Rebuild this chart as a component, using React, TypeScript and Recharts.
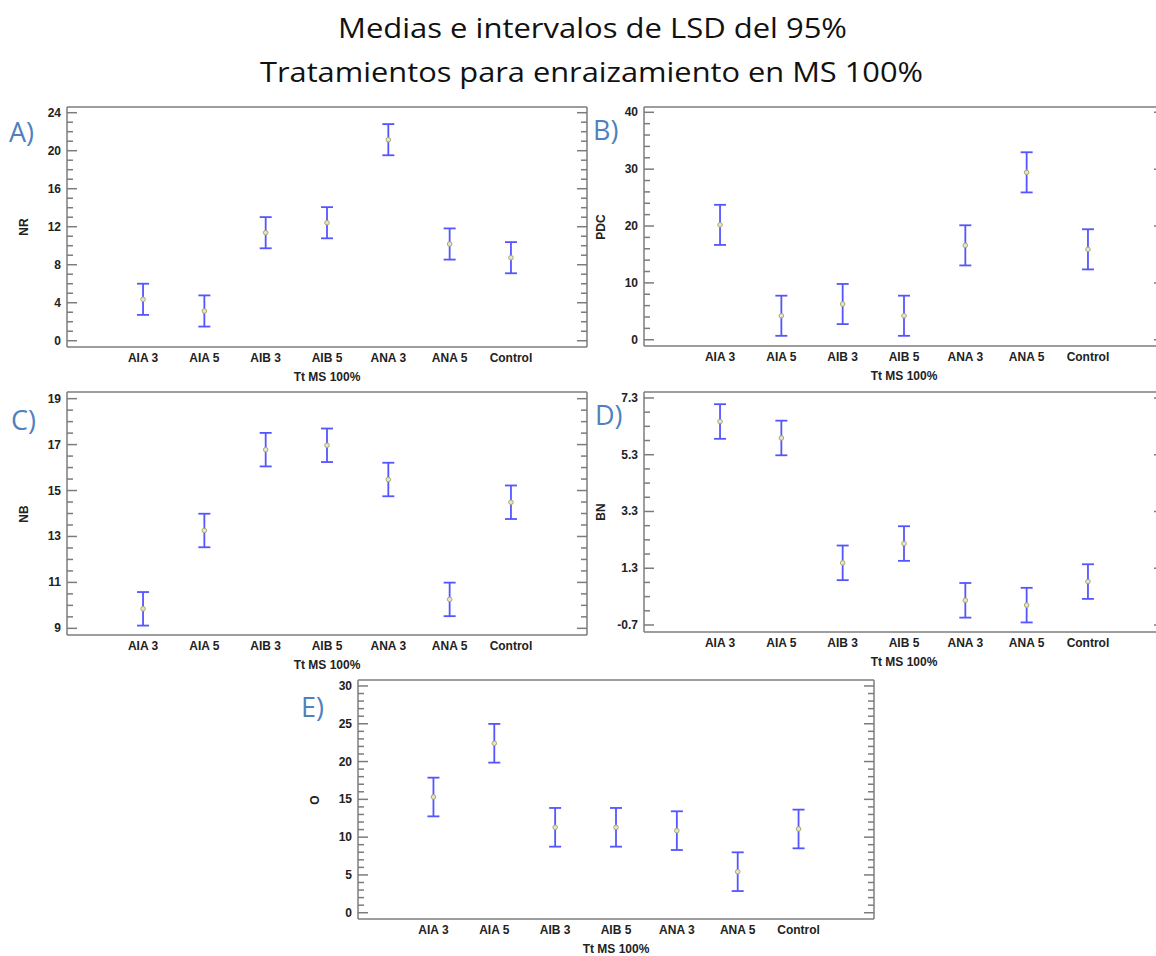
import React from "react";
import {
  ScatterChart,
  Scatter,
  XAxis,
  YAxis,
  ErrorBar,
} from "recharts";

// treatments (x categories)
const categories = ["AIA 3", "AIA 5", "AIB 3", "AIB 5", "ANA 3", "ANA 5", "Control"];

// A) NR
const nrMeans = [4.36, 3.13, 11.37, 12.42, 21.16, 10.18, 8.74];
const nrLsd = 1.64;
const nrTicks = [0, 4, 8, 12, 16, 20, 24];

// B) PDC
const pdcMeans = [20.2, 4.22, 6.28, 4.22, 16.6, 29.44, 15.9];
const pdcLsd = 3.53;
const pdcTicks = [0, 10, 20, 30, 40];

// C) NB
const nbMeans = [9.85, 13.26, 16.78, 16.97, 15.48, 10.26, 14.49];
const nbLsd = 0.73;
const nbTicks = [9, 11, 13, 15, 17, 19];

// D) BN
const bnMeans = [6.47, 5.89, 1.49, 2.17, 0.17, 0.0, 0.83];
const bnLsd = 0.61;
const bnTicks = [-0.7, 1.3, 3.3, 5.3, 7.3];

// E) O
const oMeans = [15.31, 22.42, 11.3, 11.3, 10.86, 5.43, 11.08];
const oLsd = 2.56;
const oTicks = [0, 5, 10, 15, 20, 25, 30];

const xTitle = "Tt MS 100%";
const FRAME = "#7c7c7c";
const BAR = "#5555ff";
const TICK_FONT = "'Liberation Sans', Arial, sans-serif";

function withMinor(majors: number[], step: number) {
  const first = majors[0];
  const last = majors[majors.length - 1];
  const n = Math.round((last - first) / step);
  const out: number[] = [];
  for (let k = 0; k <= n; k++) out.push(Math.round((first + k * step) * 1000) / 1000);
  return out;
}

const isMajor = (v: number, majors: number[]) => majors.some((m) => Math.abs(m - v) < 1e-6);

function LeftTick(props: any) {
  const { x, y, payload, majors } = props;
  const major = isMajor(payload.value, majors);
  const ax = x + 5;
  return (
    <g>
      <line x1={ax} x2={ax + (major ? 10 : 6)} y1={y} y2={y} stroke={FRAME} strokeWidth={1.5} />
      {major && (
        <text x={x - 1} y={y} dy={4} textAnchor="end" fontFamily={TICK_FONT} fontWeight="bold" fontSize={12} fill="#222">
          {String(payload.value)}
        </text>
      )}
    </g>
  );
}

function RightTick(props: any) {
  const { x, y, payload, majors } = props;
  const major = isMajor(payload.value, majors);
  const ax = x - 5;
  return <line x1={ax} x2={ax - (major ? 10 : 6)} y1={y} y2={y} stroke={FRAME} strokeWidth={1.5} />;
}

function Marker(props: any) {
  const { cx, cy } = props;
  return <circle cx={cx} cy={cy} r={2.3} fill="#e6e6c4" stroke="#a9a86e" strokeWidth={1} />;
}

interface PanelProps {
  bx: number;
  by: number;
  bw: number;
  bh: number;
  domain: [number, number];
  majors: number[];
  minor: number;
  means: number[];
  lsd: number;
  yLabel: string;
}

function Panel({ bx, by, bw, bh, domain, majors, minor, means, lsd, yLabel }: PanelProps) {
  const data = means.map((m, i) => ({ x: i, y: m, err: lsd }));
  const ticks = withMinor(majors, minor);
  return (
    <>
      <div style={{ position: "absolute", left: bx - 60, top: by - 10 }}>
        <ScatterChart
          width={bw + 70}
          height={bh + 60}
          margin={{ top: 9, right: 9, bottom: 10, left: 10 }}
        >
          <XAxis
            type="number"
            dataKey="x"
            domain={[-1.24, 7.24]}
            ticks={[0, 1, 2, 3, 4, 5, 6]}
            tickFormatter={(i) => categories[i] ?? ""}
            interval={0}
            height={40}
            tickLine={false}
            tickSize={0}
            tickMargin={6}
            axisLine={{ stroke: FRAME, strokeWidth: 1.5 }}
            tick={{ fill: "#222", fontSize: 12, fontWeight: "bold", fontFamily: TICK_FONT }}
            label={{
              value: xTitle,
              position: "insideBottom",
              offset: 6,
              style: { fill: "#222", fontSize: 12, fontWeight: "bold", fontFamily: TICK_FONT },
            }}
          />
          <XAxis
            xAxisId="top"
            orientation="top"
            type="number"
            dataKey="x"
            domain={[-1.24, 7.24]}
            height={1}
            tick={false}
            tickLine={false}
            axisLine={{ stroke: FRAME, strokeWidth: 1.5 }}
          />
          <YAxis
            type="number"
            dataKey="y"
            domain={domain}
            allowDataOverflow
            ticks={ticks}
            interval={0}
            width={50}
            tickSize={0}
            tickMargin={5}
            tickLine={false}
            axisLine={{ stroke: FRAME, strokeWidth: 1.5 }}
            tick={(p: any) => <LeftTick {...p} majors={majors} />}
          />
          <YAxis
            yAxisId="right"
            orientation="right"
            type="number"
            domain={domain}
            allowDataOverflow
            ticks={ticks}
            interval={0}
            width={1}
            tickSize={0}
            tickMargin={5}
            tickLine={false}
            axisLine={{ stroke: FRAME, strokeWidth: 1.5 }}
            tick={(p: any) => <RightTick {...p} majors={majors} />}
          />
          <Scatter data={data} shape={<Marker />} isAnimationActive={false}>
            <ErrorBar
              dataKey="err"
              direction="y"
              width={6}
              stroke={BAR}
              strokeWidth={1.8}
              isAnimationActive={false}
            />
          </Scatter>
        </ScatterChart>
      </div>
      <div
        style={{
          position: "absolute",
          left: bx - 43 - 30,
          top: by + bh / 2 - 8,
          width: 60,
          height: 16,
          lineHeight: "16px",
          textAlign: "center",
          transform: "rotate(-90deg)",
          fontFamily: TICK_FONT,
          fontWeight: "bold",
          fontSize: 12,
          color: "#222",
        }}
      >
        {yLabel}
      </div>
    </>
  );
}

const letterStyle: React.CSSProperties = {
  position: "absolute",
  fontFamily: "'Open Sans', sans-serif",
  fontSize: 27,
  lineHeight: "28px",
  color: "#4f81bd",
};

export default function App() {
  return (
    <div
      style={{
        position: "absolute",
        left: 0,
        top: 0,
        width: 1156,
        height: 956,
        overflow: "hidden",
        background: "#fff",
      }}
    >
      <svg width={1156} height={95} style={{ position: "absolute", left: 0, top: 0 }}>
        <text x={338} y={38} fontFamily="'Open Sans', sans-serif" fontSize={28} fill="#111" textLength={509} lengthAdjust="spacingAndGlyphs">
          Medias e intervalos de LSD del 95%
        </text>
        <text x={260} y={82} fontFamily="'Open Sans', sans-serif" fontSize={28} fill="#111" textLength={663} lengthAdjust="spacingAndGlyphs">
          Tratamientos para enraizamiento en MS 100%
        </text>
      </svg>

      <Panel bx={67} by={107} bw={520} bh={240} domain={[-0.66, 24.6]} majors={nrTicks} minor={1} means={nrMeans} lsd={nrLsd} yLabel="NR" />
      <Panel bx={644} by={107} bw={520} bh={239} domain={[-1.1, 40.93]} majors={pdcTicks} minor={2} means={pdcMeans} lsd={pdcLsd} yLabel="PDC" />
      <Panel bx={67} by={392} bw={520} bh={243} domain={[8.71, 19.29]} majors={nbTicks} minor={0.5} means={nbMeans} lsd={nbLsd} yLabel="NB" />
      <Panel bx={644} by={392} bw={520} bh={240} domain={[-0.947, 7.51]} majors={bnTicks} minor={0.5} means={bnMeans} lsd={bnLsd} yLabel="BN" />
      <Panel bx={358} by={680} bw={516} bh={239} domain={[-0.83, 30.79]} majors={oTicks} minor={1} means={oMeans} lsd={oLsd} yLabel="O" />

      <div style={{ ...letterStyle, left: 9, top: 118 }}>A)</div>
      <div style={{ ...letterStyle, left: 593, top: 116 }}>B)</div>
      <div style={{ ...letterStyle, left: 11, top: 406 }}>C)</div>
      <div style={{ ...letterStyle, left: 595, top: 401 }}>D)</div>
      <div style={{ ...letterStyle, left: 301, top: 693 }}>E)</div>
    </div>
  );
}
